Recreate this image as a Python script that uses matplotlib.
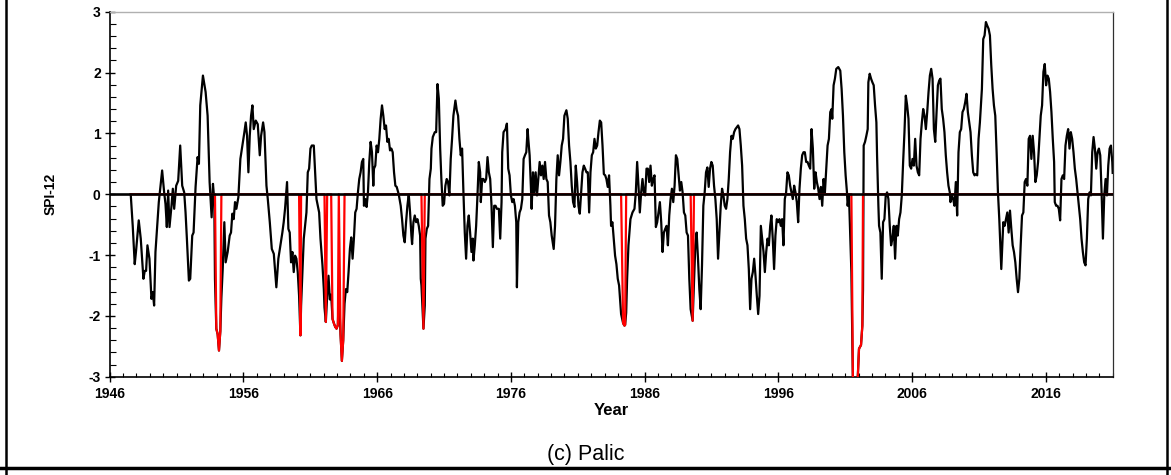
import numpy as np
import matplotlib
matplotlib.use("Agg")
import matplotlib.pyplot as plt
from matplotlib.lines import Line2D
from matplotlib.ticker import MultipleLocator

# SPI-12 series (decimal year, value)
years = [
    1947.57, 1947.72, 1947.87, 1947.97, 1948.17, 1948.32, 1948.42, 1948.52, 1948.62, 1948.72,
    1948.82, 1948.97, 1949.12, 1949.22, 1949.32, 1949.42, 1949.67, 1949.92, 1950.07, 1950.17,
    1950.27, 1950.37, 1950.47, 1950.62, 1950.72, 1950.82, 1950.97, 1951.12, 1951.27, 1951.42,
    1951.57, 1951.67, 1951.77, 1951.92, 1952.02, 1952.17, 1952.27, 1952.42, 1952.57, 1952.67,
    1952.77, 1952.97, 1953.17, 1953.32, 1953.47, 1953.62, 1953.72, 1953.82, 1953.87, 1953.97,
    1954.07, 1954.17, 1954.27, 1954.35, 1954.45, 1954.57, 1954.67, 1954.82, 1954.97, 1955.07,
    1955.17, 1955.27, 1955.37, 1955.47, 1955.62, 1955.77, 1955.92, 1956.07, 1956.17, 1956.27,
    1956.37, 1956.47, 1956.57, 1956.67, 1956.77, 1956.92, 1957.07, 1957.22, 1957.32, 1957.47,
    1957.57, 1957.72, 1957.82, 1957.97, 1958.12, 1958.27, 1958.46, 1958.61, 1958.76, 1958.91,
    1959.01, 1959.11, 1959.26, 1959.36, 1959.46, 1959.56, 1959.66, 1959.76, 1959.86, 1959.96,
    1960.06, 1960.16, 1960.26, 1960.31, 1960.41, 1960.51, 1960.61, 1960.71, 1960.81, 1960.91,
    1961.01, 1961.11, 1961.26, 1961.36, 1961.46, 1961.56, 1961.66, 1961.76, 1961.91, 1962.01,
    1962.06, 1962.16, 1962.26, 1962.36, 1962.46, 1962.56, 1962.66, 1962.76, 1962.86, 1962.96,
    1963.06, 1963.13, 1963.26, 1963.36, 1963.46, 1963.56, 1963.66, 1963.76, 1963.86, 1963.96,
    1964.06, 1964.16, 1964.26, 1964.36, 1964.46, 1964.56, 1964.66, 1964.76, 1964.86, 1964.96,
    1965.01, 1965.11, 1965.21, 1965.31, 1965.41, 1965.51, 1965.61, 1965.71, 1965.76, 1965.86,
    1965.96, 1966.06, 1966.16, 1966.26, 1966.36, 1966.46, 1966.56, 1966.66, 1966.76, 1966.86,
    1966.96, 1967.06, 1967.16, 1967.26, 1967.36, 1967.46, 1967.61, 1967.76, 1967.86, 1967.96,
    1968.06, 1968.16, 1968.26, 1968.36, 1968.46, 1968.56, 1968.61, 1968.71, 1968.81, 1968.91,
    1969.01, 1969.11, 1969.21, 1969.26, 1969.31, 1969.46, 1969.56, 1969.61, 1969.71, 1969.81,
    1969.91, 1970.01, 1970.06, 1970.16, 1970.31, 1970.41, 1970.51, 1970.61, 1970.71, 1970.80,
    1970.90, 1971.00, 1971.10, 1971.20, 1971.30, 1971.40, 1971.50, 1971.60, 1971.70, 1971.85,
    1971.95, 1972.05, 1972.15, 1972.25, 1972.35, 1972.45, 1972.55, 1972.65, 1972.75, 1972.85,
    1972.95, 1973.05, 1973.15, 1973.20, 1973.30, 1973.40, 1973.50, 1973.60, 1973.70, 1973.75,
    1973.85, 1973.95, 1974.05, 1974.15, 1974.25, 1974.35, 1974.45, 1974.55, 1974.65, 1974.75,
    1974.85, 1974.95, 1975.10, 1975.20, 1975.30, 1975.35, 1975.45, 1975.60, 1975.70, 1975.80,
    1975.90, 1976.00, 1976.10, 1976.20, 1976.30, 1976.40, 1976.45, 1976.55, 1976.65, 1976.75,
    1976.85, 1976.95, 1977.05, 1977.15, 1977.25, 1977.30, 1977.40, 1977.50, 1977.55, 1977.65,
    1977.75, 1977.85, 1977.95, 1978.05, 1978.15, 1978.25, 1978.35, 1978.45, 1978.55, 1978.65,
    1978.75, 1978.85, 1978.95, 1979.05, 1979.20, 1979.30, 1979.40, 1979.50, 1979.60, 1979.70,
    1979.80, 1979.90, 1980.00, 1980.15, 1980.25, 1980.35, 1980.45, 1980.55, 1980.65, 1980.75,
    1980.85, 1980.95, 1981.05, 1981.15, 1981.25, 1981.35, 1981.45, 1981.55, 1981.65, 1981.75,
    1981.85, 1981.95, 1982.05, 1982.15, 1982.25, 1982.35, 1982.45, 1982.55, 1982.65, 1982.75,
    1982.85, 1982.95, 1983.05, 1983.14, 1983.24, 1983.34, 1983.44, 1983.49, 1983.59, 1983.69,
    1983.79, 1983.89, 1983.99, 1984.09, 1984.19, 1984.24, 1984.39, 1984.49, 1984.54, 1984.62,
    1984.69, 1984.79, 1984.94, 1985.09, 1985.24, 1985.34, 1985.44, 1985.54, 1985.64, 1985.74,
    1985.84, 1985.94, 1986.04, 1986.14, 1986.24, 1986.34, 1986.44, 1986.54, 1986.64, 1986.74,
    1986.84, 1986.94, 1987.04, 1987.14, 1987.24, 1987.34, 1987.44, 1987.54, 1987.64, 1987.74,
    1987.84, 1987.94, 1988.04, 1988.14, 1988.24, 1988.34, 1988.44, 1988.54, 1988.64, 1988.74,
    1988.84, 1988.94, 1989.04, 1989.14, 1989.24, 1989.34, 1989.44, 1989.59, 1989.69, 1989.79,
    1989.89, 1989.99, 1990.09, 1990.19, 1990.29, 1990.39, 1990.49, 1990.59, 1990.69, 1990.79,
    1990.89, 1990.99, 1991.09, 1991.19, 1991.29, 1991.39, 1991.49, 1991.59, 1991.69, 1991.79,
    1991.89, 1991.99, 1992.09, 1992.19, 1992.29, 1992.39, 1992.49, 1992.59, 1992.69, 1992.79,
    1992.89, 1992.99, 1993.09, 1993.19, 1993.29, 1993.39, 1993.49, 1993.59, 1993.69, 1993.79,
    1993.89, 1993.99, 1994.09, 1994.19, 1994.29, 1994.39, 1994.49, 1994.59, 1994.69, 1994.79,
    1994.89, 1994.99, 1995.09, 1995.19, 1995.29, 1995.39, 1995.48, 1995.58, 1995.68, 1995.78,
    1995.88, 1995.98, 1996.08, 1996.18, 1996.28, 1996.38, 1996.48, 1996.58, 1996.68, 1996.78,
    1996.88, 1996.98, 1997.08, 1997.18, 1997.28, 1997.38, 1997.48, 1997.58, 1997.68, 1997.78,
    1997.88, 1997.98, 1998.08, 1998.18, 1998.28, 1998.38, 1998.48, 1998.58, 1998.68, 1998.78,
    1998.88, 1998.98, 1999.08, 1999.18, 1999.28, 1999.38, 1999.48, 1999.58, 1999.68, 1999.78,
    1999.88, 1999.98, 2000.03, 2000.13, 2000.23, 2000.33, 2000.48, 2000.63, 2000.73, 2000.83,
    2000.93, 2001.03, 2001.13, 2001.18, 2001.28, 2001.38, 2001.46, 2001.58, 2001.68, 2001.83,
    2001.93, 2002.03, 2002.18, 2002.28, 2002.33, 2002.38, 2002.48, 2002.58, 2002.68, 2002.73,
    2002.83, 2002.93, 2003.03, 2003.13, 2003.23, 2003.33, 2003.38, 2003.48, 2003.53, 2003.63,
    2003.73, 2003.83, 2003.93, 2004.03, 2004.13, 2004.23, 2004.33, 2004.43, 2004.53, 2004.63,
    2004.73, 2004.83, 2004.93, 2005.03, 2005.13, 2005.23, 2005.33, 2005.43, 2005.53, 2005.63,
    2005.73, 2005.83, 2005.93, 2006.03, 2006.13, 2006.23, 2006.33, 2006.43, 2006.53, 2006.63,
    2006.73, 2006.83, 2006.93, 2007.03, 2007.13, 2007.23, 2007.33, 2007.43, 2007.53, 2007.63,
    2007.73, 2007.83, 2007.93, 2008.03, 2008.12, 2008.22, 2008.32, 2008.42, 2008.52, 2008.62,
    2008.72, 2008.82, 2008.87, 2008.97, 2009.07, 2009.17, 2009.27, 2009.37, 2009.47, 2009.57,
    2009.67, 2009.77, 2009.87, 2009.97, 2010.07, 2010.17, 2010.27, 2010.37, 2010.47, 2010.57,
    2010.67, 2010.77, 2010.87, 2010.97, 2011.07, 2011.22, 2011.32, 2011.42, 2011.52, 2011.62,
    2011.72, 2011.82, 2011.92, 2012.02, 2012.12, 2012.22, 2012.32, 2012.42, 2012.52, 2012.62,
    2012.67, 2012.77, 2012.82, 2012.92, 2013.02, 2013.12, 2013.22, 2013.32, 2013.42, 2013.52,
    2013.62, 2013.72, 2013.82, 2013.92, 2014.02, 2014.12, 2014.22, 2014.32, 2014.42, 2014.52,
    2014.62, 2014.72, 2014.82, 2014.92, 2015.02, 2015.12, 2015.22, 2015.32, 2015.42, 2015.52,
    2015.62, 2015.72, 2015.82, 2015.92, 2016.02, 2016.12, 2016.22, 2016.32, 2016.42, 2016.52,
    2016.62, 2016.67, 2016.77, 2016.87, 2016.97, 2017.07, 2017.17, 2017.27, 2017.37, 2017.47,
    2017.57, 2017.67, 2017.77, 2017.87, 2017.97, 2018.07, 2018.17, 2018.27, 2018.37, 2018.47,
    2018.57, 2018.67, 2018.77, 2018.87, 2018.97, 2019.07, 2019.17, 2019.27, 2019.37, 2019.47,
    2019.57, 2019.67, 2019.77, 2019.87, 2019.97, 2020.07, 2020.17, 2020.27, 2020.37, 2020.47,
    2020.57, 2020.67, 2020.77, 2020.87, 2020.97, 2021.00,
]

spi = [
    0.00, -0.52, -1.15, -0.93, -0.43, -0.73, -1.06, -1.39, -1.26, -1.26,
    -0.84, -1.06, -1.72, -1.61, -1.83, -0.95, -0.13, 0.39, 0.03, -0.16,
    -0.54, 0.06, -0.54, -0.19, 0.09, -0.24, 0.14, 0.22, 0.80, 0.14,
    0.03, -0.30, -0.73, -1.42, -1.39, -0.68, -0.63, 0.12, 0.61, 0.50,
    1.46, 1.95, 1.68, 1.29, 0.20, -0.38, 0.17, -0.10, -1.39, -2.21,
    -2.30, -2.57, -2.25, -1.70, -1.23, -0.46, -1.12, -0.95, -0.68, -0.63,
    -0.32, -0.41, -0.13, -0.24, -0.05, 0.58, 0.80, 1.02, 1.18, 0.96,
    0.36, 0.96, 1.29, 1.46, 1.07, 1.21, 1.15, 0.64, 0.96, 1.18,
    1.02, 0.14, -0.08, -0.46, -0.90, -0.98, -1.53, -1.06, -0.84, -0.63,
    -0.46, -0.24, 0.20, -0.57, -0.63, -1.12, -0.95, -1.28, -1.01, -1.06,
    -1.28, -1.67, -2.32, -1.83, -1.28, -0.73, -0.52, -0.30, 0.36, 0.42,
    0.75, 0.80, 0.80, 0.36, -0.08, -0.19, -0.30, -0.73, -1.17, -1.56,
    -1.86, -2.10, -1.67, -1.34, -1.73, -1.65, -2.05, -2.12, -2.18, -2.21,
    -2.15, -1.60, -2.30, -2.74, -2.40, -1.80, -1.56, -1.61, -1.28, -0.90,
    -0.71, -1.06, -0.73, -0.30, -0.24, 0.03, 0.25, 0.36, 0.53, 0.58,
    -0.19, -0.08, -0.21, 0.03, 0.53, 0.86, 0.69, 0.14, 0.42, 0.47,
    0.80, 0.69, 0.91, 1.24, 1.46, 1.29, 1.07, 1.13, 0.86, 0.91,
    0.72, 0.75, 0.69, 0.36, 0.14, 0.12, 0.00, -0.19, -0.41, -0.68,
    -0.79, -0.46, -0.19, 0.00, -0.30, -0.68, -0.82, -0.46, -0.35, -0.46,
    -0.41, -0.52, -0.68, -1.39, -1.50, -2.21, -1.83, -0.73, -0.57, -0.52,
    0.25, 0.42, 0.75, 0.94, 1.02, 1.02, 1.81, 1.57, 0.75, 0.25,
    -0.19, -0.16, 0.14, 0.25, 0.20, -0.02, 0.58, 0.91, 1.29, 1.54,
    1.38, 1.29, 0.91, 0.64, 0.75, 0.03, -0.63, -1.06, -0.52, -0.35,
    -0.63, -0.95, -0.73, -1.09, -0.84, -0.52, -0.02, 0.53, 0.36, -0.13,
    0.25, 0.25, 0.20, 0.25, 0.61, 0.36, 0.25, -0.19, -0.87, -0.19,
    -0.19, -0.24, -0.24, -0.73, -0.13, 0.69, 1.02, 1.07, 1.16, 0.42,
    0.31, -0.02, -0.13, -0.08, -0.19, -0.46, -1.53, -0.46, -0.30, -0.24,
    -0.08, 0.58, 0.64, 0.69, 1.07, 0.91, 0.64, 0.09, -0.24, 0.36,
    0.03, 0.36, -0.02, 0.25, 0.53, 0.31, 0.47, 0.25, 0.53, 0.25,
    0.20, -0.35, -0.46, -0.68, -0.90, -0.52, 0.25, 0.64, 0.31, 0.53,
    0.80, 0.91, 1.29, 1.38, 1.24, 0.80, 0.53, 0.14, -0.13, -0.21,
    0.47, 0.20, -0.19, -0.32, 0.03, 0.36, 0.47, 0.42, 0.36, 0.36,
    -0.30, 0.36, 0.64, 0.69, 0.91, 0.75, 0.80, 1.02, 1.21, 1.18,
    0.80, 0.33, 0.31, 0.25, 0.12, 0.31, -0.19, -0.52, -0.46, -0.73,
    -1.01, -1.15, -1.39, -1.50, -1.83, -1.97, -2.12, -2.16, -2.15, -1.95,
    -1.39, -0.84, -0.41, -0.30, -0.24, 0.03, 0.53, 0.14, -0.30, 0.03,
    0.25, 0.03, -0.02, 0.42, 0.42, 0.20, 0.47, 0.14, 0.25, 0.31,
    -0.54, -0.46, -0.30, -0.13, -0.46, -0.95, -0.63, -0.57, -0.52, -0.84,
    -0.35, -0.08, 0.09, -0.13, 0.14, 0.64, 0.58, 0.31, 0.06, 0.20,
    0.03, -0.30, -0.35, -0.63, -0.68, -1.39, -1.89, -2.08, -1.45, -0.84,
    -0.63, -1.06, -1.56, -1.89, -1.17, -0.19, 0.03, 0.36, 0.44, 0.12,
    0.42, 0.53, 0.47, 0.14, -0.08, -0.41, -1.06, -0.63, -0.19, 0.09,
    -0.02, -0.19, -0.24, -0.08, 0.25, 0.69, 0.96, 0.91, 1.02, 1.07,
    1.10, 1.13, 1.07, 0.80, 0.47, -0.19, -0.41, -0.73, -0.84, -1.23,
    -1.89, -1.39, -1.28, -1.06, -1.34, -1.67, -1.97, -1.67, -0.52, -0.73,
    -0.95, -1.28, -0.95, -0.73, -0.84, -0.52, -0.35, -0.73, -1.23, -0.68,
    -0.41, -0.46, -0.41, -0.52, -0.41, -0.84, -0.08, 0.03, 0.36, 0.31,
    0.14, 0.03, -0.08, 0.14, 0.03, -0.13, -0.46, 0.09, 0.42, 0.64,
    0.69, 0.69, 0.53, 0.53, 0.47, 0.42, 1.07, 0.75, 0.09, 0.36,
    0.20, 0.09, -0.08, 0.12, -0.19, 0.25, 0.03, 0.42, 0.80, 0.91,
    1.35, 1.40, 1.24, 1.79, 1.90, 2.06, 2.09, 2.03, 1.73, 1.29,
    0.69, 0.31, 0.03, -0.19, -0.02, -0.73, -1.28, -3.20, -3.30, -3.20,
    -3.05, -2.54, -2.48, -2.16, -1.58, 0.80, 0.86, 0.96, 1.07, 1.84,
    1.98, 1.90, 1.84, 1.79, 1.46, 1.18, 0.64, -0.19, -0.52, -0.63,
    -1.39, -0.46, -0.41, -0.02, 0.03, -0.08, -0.52, -0.84, -0.73, -0.52,
    -1.06, -0.52, -0.68, -0.41, -0.30, -0.02, 0.53, 1.02, 1.62, 1.46,
    1.24, 0.47, 0.42, 0.58, 0.47, 0.91, 0.47, 0.36, 0.31, 0.91,
    1.18, 1.40, 1.29, 1.07, 1.35, 1.68, 1.95, 2.06, 1.90, 1.07,
    0.86, 1.35, 1.79, 1.87, 1.90, 1.40, 1.24, 1.02, 0.64, 0.36,
    0.14, 0.03, -0.13, -0.02, -0.08, -0.19, 0.20, -0.35, 0.69, 1.02,
    1.07, 1.35, 1.40, 1.51, 1.65, 1.35, 1.18, 1.02, 0.64, 0.36,
    0.31, 0.33, 0.31, 0.91, 1.18, 1.73, 2.55, 2.61, 2.83, 2.77,
    2.72, 2.61, 2.12, 1.73, 1.46, 1.29, 0.69, 0.03, -0.41, -0.95,
    -1.23, -0.73, -0.46, -0.52, -0.41, -0.30, -0.63, -0.27, -0.57, -0.84,
    -0.95, -1.12, -1.39, -1.61, -1.39, -0.84, -0.35, -0.30, 0.20, 0.25,
    0.14, 0.91, 0.96, 0.58, 0.96, 0.69, 0.20, 0.31, 0.53, 0.91,
    1.29, 1.46, 2.01, 2.14, 1.79, 1.95, 1.90, 1.68, 1.35, 0.91,
    0.53, -0.13, -0.19, -0.19, -0.24, -0.43, 0.25, 0.31, 0.25, 0.80,
    0.96, 1.07, 0.75, 1.02, 0.91, 0.69, 0.42, 0.25, 0.03, -0.19,
    -0.41, -0.73, -0.95, -1.12, -1.17, -0.73, -0.08, 0.03, -0.02, 0.69,
    0.94, 0.75, 0.42, 0.69, 0.75, 0.64, 0.03, -0.73, -0.02, 0.25,
    -0.02, 0.47, 0.75, 0.80, 0.53, 0.35,
]

xticks = [1946, 1956, 1966, 1976, 1986, 1996, 2006, 2016]
yticks = [-3, -2, -1, 0, 1, 2, 3]
extreme_level = -2.0

plt.rcParams['axes.unicode_minus'] = False
plt.rcParams['font.family'] = ['Liberation Sans', 'DejaVu Sans']

years = np.array(years)
spi = np.array(spi)
# extreme drought months (SPI below -2) are drawn in red on top
spi_red = np.where(spi < extreme_level, spi, 0.0)

fig = plt.figure(figsize=(11.71, 4.75), dpi=100)
ax = fig.add_axes([0.0937, 0.2069, 0.8565, 0.7685])

ax.plot(years, spi, color='black', linewidth=1.6, zorder=2)
ax.plot(years, spi_red, color='red', linewidth=1.6, zorder=3)
ax.axhline(0, color='black', linewidth=1.9, zorder=4)

ax.set_xlim(1946, 2021.0)
ax.set_ylim(-3, 3)
ax.set_xticks(xticks)
ax.set_yticks(yticks)
ax.xaxis.set_minor_locator(MultipleLocator(1))
ax.yaxis.set_minor_locator(MultipleLocator(0.2))

ax.tick_params(axis='both', which='major', direction='inout', length=7, width=1,
               labelsize=10, colors='black')
ax.tick_params(axis='x', which='minor', direction='in', length=3, width=0.8)
ax.tick_params(axis='y', which='minor', direction='in', length=4, width=0.8)
ax.tick_params(axis='x', which='major', pad=4)
ax.tick_params(axis='y', which='major', pad=3)
for lab in ax.get_xticklabels() + ax.get_yticklabels():
    lab.set_fontweight('bold')

ax.spines['left'].set_linewidth(1.2)
ax.spines['bottom'].set_linewidth(1.2)
ax.spines['top'].set_color('#b0b0b0')
ax.spines['top'].set_linewidth(1.0)
ax.spines['right'].set_color('#303030')
ax.spines['right'].set_linewidth(0.9)

ax.set_xlabel('Year', fontsize=12, fontweight='bold', labelpad=1)
ax.set_ylabel('SPI-12', fontsize=10, fontweight='bold', labelpad=22)

fig.text(0.5, 0.043, '(c) Palic', ha='center', va='center', fontsize=15.5,
         family=['Liberation Sans Narrow', 'Liberation Sans', 'DejaVu Sans'])

# table cell border around the panel
fig.add_artist(Line2D([0.0047, 0.0047], [0.0, 1.0], transform=fig.transFigure,
                      color='black', linewidth=1.8))
fig.add_artist(Line2D([0.9966, 0.9966], [0.0, 1.0], transform=fig.transFigure,
                      color='black', linewidth=1.8))
fig.add_artist(Line2D([0.0, 1.0], [0.015, 0.015], transform=fig.transFigure,
                      color='black', linewidth=2.5))

fig.savefig('out.png', dpi=100)
